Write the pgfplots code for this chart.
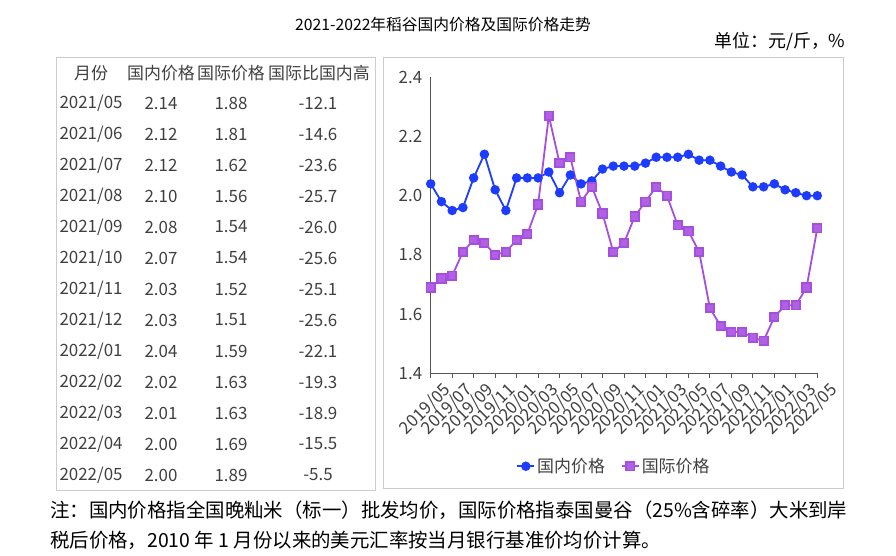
\documentclass[border=0pt]{standalone}
\usepackage{pgfplots}
\pgfplotsset{compat=1.18}
\usepackage{fontspec}
\setmainfont{Noto Sans CJK SC}
\definecolor{dom}{HTML}{1E3CFF}
\definecolor{intl}{HTML}{A64EE0}
\definecolor{txt}{HTML}{404040}
\definecolor{boxc}{HTML}{CCCCCC}
\definecolor{axc}{HTML}{555555}
\begin{document}
\begin{tikzpicture}
\path[use as bounding box] (0bp,0bp) rectangle (896bp,556bp);
\draw[boxc,line width=1bp] (56.5bp,498.5bp) rectangle (375.5bp,65.5bp);
\draw[boxc,line width=1bp] (383.5bp,498.5bp) rectangle (843.5bp,67.5bp);
\node[font=\fontsize{15.8}{18}\selectfont] at (443bp,531bp) {2021-2022年稻谷国内价格及国际价格走势};
\node[anchor=east,font=\fontsize{18}{20}\selectfont] at (849bp,514bp) {单位：元/斤，\%};
% table
\begin{scope}[txt,font=\fontsize{17}{20}\selectfont]
\node at (91bp,483bp) {月份};
\node at (161bp,483bp) {国内价格};
\node at (231bp,483bp) {国际价格};
\node at (319bp,483bp) {国际比国内高};
\foreach \y/\m/\a/\b/\c [count=\i from 0] in {2021/05/2.14/1.88/-12.1,2021/06/2.12/1.81/-14.6,2021/07/2.12/1.62/-23.6,2021/08/2.10/1.56/-25.7,2021/09/2.08/1.54/-26.0,2021/10/2.07/1.54/-25.6,2021/11/2.03/1.52/-25.1,2021/12/2.03/1.51/-25.6,2022/01/2.04/1.59/-22.1,2022/02/2.02/1.63/-19.3,2022/03/2.01/1.63/-18.9,2022/04/2.00/1.69/-15.5,2022/05/2.00/1.89/-5.5}{
  \node[anchor=west] at (56bp,{(453-31*\i)*1bp}) {\y/\m};
  \node at (161bp,{(453-31*\i)*1bp}) {\a};
  \node at (231bp,{(453-31*\i)*1bp}) {\b};
  \node at (318bp,{(453-31*\i)*1bp}) {\c};
}
\end{scope}
% footnote
\node[anchor=west,font=\fontsize{19.5}{22}\selectfont,inner sep=0pt] at (50bp,46bp) {注：国内价格指全国晚籼米（标一）批发均价，国际价格指泰国曼谷（25\%含碎率）大米到岸};
\node[anchor=west,font=\fontsize{19.5}{22}\selectfont,inner sep=0pt] at (50bp,16bp) {税后价格，2010 年 1 月份以来的美元汇率按当月银行基准价均价计算。};
\begin{axis}[
  at={(430.7bp,182.7bp)}, anchor=south west,
  scale only axis, width=386.6bp, height=296bp,
  xmin=0, xmax=36, ymin=1.4, ymax=2.4,
  clip=false,
  axis x line*=bottom, axis y line*=left,
  axis line style={axc, line width=1.2bp},
  xtick={0,2,...,36},
  xticklabels={2019/05,2019/07,2019/09,2019/11,2020/01,2020/03,2020/05,2020/07,2020/09,2020/11,2021/01,2021/03,2021/05,2021/07,2021/09,2021/11,2022/01,2022/03,2022/05},
  x tick label style={rotate=45, anchor=north east, font=\fontsize{17}{20}\selectfont, text=txt, inner sep=1pt, xshift=7bp, yshift=-9bp},
  tick align=outside, major tick length=5bp,
  x tick style={axc, line width=1bp},
  ytick={1.4,1.6,...,2.41},
  y tick style={draw=none},
  y tick label style={font=\fontsize{17}{20}\selectfont, text=txt},
  yticklabel style={/pgf/number format/.cd, fixed, fixed zerofill, precision=1, assume math mode=true},
  legend columns=2,
  legend style={draw=none, at={(0.474,-0.314)}, anchor=center, font=\fontsize{17}{20}\selectfont, text=txt, /tikz/every even column/.append style={column sep=14bp}},
]
\addplot[dom, line width=1.8bp, mark=*, mark size=3.8bp, mark options={solid, fill=dom}] coordinates {
(0,2.04)(1,1.98)(2,1.95)(3,1.96)(4,2.06)(5,2.14)(6,2.02)(7,1.95)(8,2.06)(9,2.06)(10,2.06)(11,2.08)(12,2.01)(13,2.07)(14,2.04)(15,2.05)(16,2.09)(17,2.10)(18,2.10)(19,2.10)(20,2.11)(21,2.13)(22,2.13)(23,2.13)(24,2.14)(25,2.12)(26,2.12)(27,2.10)(28,2.08)(29,2.07)(30,2.03)(31,2.03)(32,2.04)(33,2.02)(34,2.01)(35,2.00)(36,2.00)};
\addlegendentry{国内价格}
\addplot[intl, line width=1.8bp, mark=square*, mark size=4.2bp, mark options={solid, fill=intl!90!white}] coordinates {
(0,1.69)(1,1.72)(2,1.73)(3,1.81)(4,1.85)(5,1.84)(6,1.80)(7,1.81)(8,1.85)(9,1.87)(10,1.97)(11,2.27)(12,2.11)(13,2.13)(14,1.98)(15,2.03)(16,1.94)(17,1.81)(18,1.84)(19,1.93)(20,1.98)(21,2.03)(22,2.00)(23,1.90)(24,1.88)(25,1.81)(26,1.62)(27,1.56)(28,1.54)(29,1.54)(30,1.52)(31,1.51)(32,1.59)(33,1.63)(34,1.63)(35,1.69)(36,1.89)};
\addlegendentry{国际价格}
\end{axis}
\end{tikzpicture}
\end{document}
